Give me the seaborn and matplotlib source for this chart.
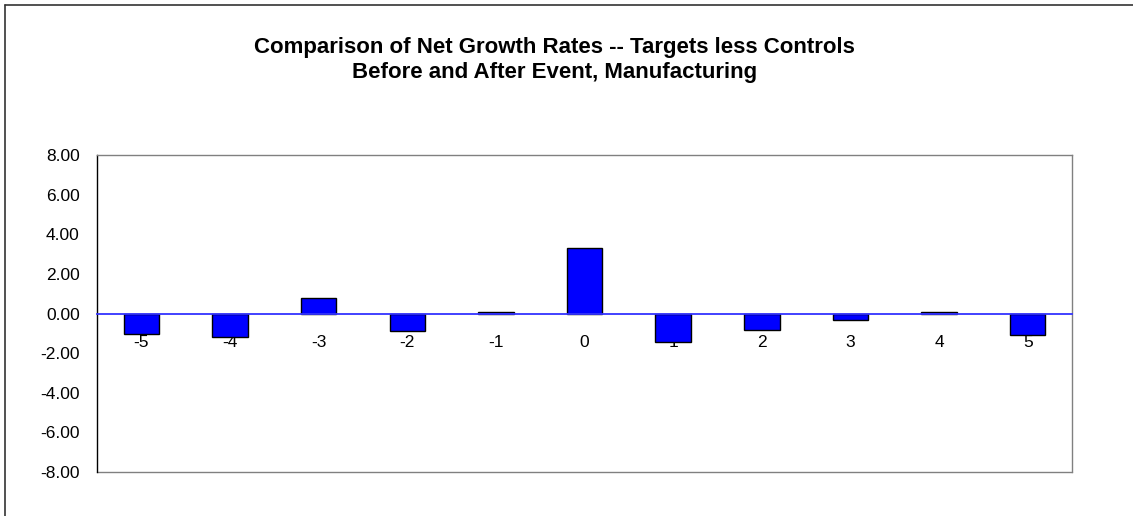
import numpy as np
import pandas as pd
import matplotlib.pyplot as plt
import matplotlib.ticker as mticker
from matplotlib.lines import Line2D
import seaborn as sns

# ─────────────────────────────────────────────
# DADOS
# ─────────────────────────────────────────────
anos_evento = ["-5", "-4", "-3", "-2", "-1", "0", "1", "2", "3", "4", "5"]
diferenca_crescimento = [-1.03, -1.18, 0.79, -0.89, 0.08, 3.29, -1.45, -0.82, -0.31, 0.07, -1.11]
y_ticks = [-8, -6, -4, -2, 0, 2, 4, 6, 8]

titulo_1 = "Comparison of Net Growth Rates -- Targets less Controls"
titulo_2 = "Before and After Event, Manufacturing"

AZUL = "#0000FF"
AZUL_EIXO = "#3333FF"
CINZA = "#808080"

sns.set_style("white")
plt.rcParams.update({
    "font.family": ["Liberation Sans", "DejaVu Sans"],
    "text.color": "black",
    "xtick.color": "black",
    "ytick.color": "black",
    "axes.labelcolor": "black",
})

df = pd.DataFrame({"ano": anos_evento, "valor": diferenca_crescimento})

fig = plt.figure(figsize=(11.33, 5.16), dpi=100)
ax = fig.add_axes([97 / 1133, 1 - 472 / 516, (1072 - 97) / 1133, (472 - 155) / 516])

sns.barplot(data=df, x="ano", y="valor", order=anos_evento, color=AZUL,
            saturation=1, width=0.4, edgecolor="black", linewidth=1.0, ax=ax)

ax.set_xlim(-0.5, len(anos_evento) - 0.5)
ax.set_ylim(-8, 8)
ax.set_xlabel("")
ax.set_ylabel("")

# eixo Y
ax.yaxis.set_major_locator(mticker.FixedLocator(y_ticks))
ax.yaxis.set_major_formatter(mticker.FormatStrFormatter("%.2f"))
ax.tick_params(axis="y", direction="out", length=4.3, width=1, color="black",
               labelcolor="black", pad=8.2, labelsize=12.5)
ax.spines["left"].set_color("black")
ax.spines["left"].set_linewidth(1.0)

# eixo X na linha do zero
ax.spines["bottom"].set_position(("data", 0))
ax.spines["bottom"].set_color(AZUL_EIXO)
ax.spines["bottom"].set_linewidth(1.3)
ax.xaxis.set_major_locator(mticker.FixedLocator(np.arange(-0.5, len(anos_evento), 1.0)))
ax.xaxis.set_major_formatter(mticker.NullFormatter())
ax.xaxis.set_minor_locator(mticker.FixedLocator(np.arange(len(anos_evento))))
ax.xaxis.set_minor_formatter(mticker.FixedFormatter(anos_evento))
ax.tick_params(axis="x", which="major", direction="out", length=3, width=1,
               color=AZUL_EIXO)
ax.tick_params(axis="x", which="minor", length=0, pad=15.5, labelsize=12.5,
               labelcolor="black")

for lado in ["top", "right"]:
    ax.spines[lado].set_color(CINZA)
    ax.spines[lado].set_linewidth(1.0)
ax.add_line(Line2D([0, 1], [0, 0], transform=ax.transAxes, color=CINZA,
                   linewidth=1.0, clip_on=False))
ax.grid(False)

# título
x_tit = 554.5 / 1133
fig.text(x_tit, 1 - 53 / 516, titulo_1, ha="center", va="baseline",
         fontsize=16, fontweight="bold", color="black")
fig.text(x_tit, 1 - 78 / 516, titulo_2, ha="center", va="baseline",
         fontsize=16, fontweight="bold", color="black")

# moldura externa
fig.add_artist(Line2D([5 / 1133, 5 / 1133], [1 - 5 / 516, 0], transform=fig.transFigure,
                      color="#333333", linewidth=1.2))
fig.add_artist(Line2D([5 / 1133, 1], [1 - 5 / 516, 1 - 5 / 516], transform=fig.transFigure,
                      color="#333333", linewidth=1.2))

fig.savefig("out.png", dpi=100)
